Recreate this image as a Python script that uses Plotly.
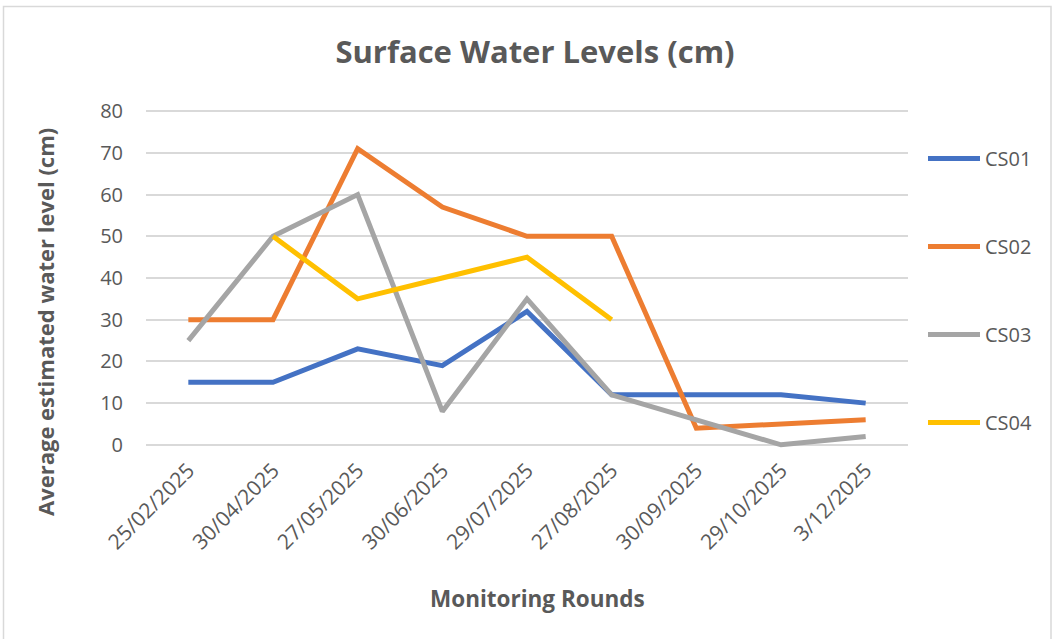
import plotly.graph_objects as go

rounds = ["25/02/2025", "30/04/2025", "27/05/2025", "30/06/2025", "29/07/2025",
          "27/08/2025", "30/09/2025", "29/10/2025", "3/12/2025"]
cs01 = [15, 15, 23, 19, 32, 12, 12, 12, 10]
cs02 = [30, 30, 71, 57, 50, 50, 4, 5, 6]
cs03 = [25, 50, 60, 8, 35, 12, 6, 0, 2]
cs04 = [None, 50, 35, 40, 45, 30, None, None, None]

series = [("CS01", cs01, "#4472C4"), ("CS02", cs02, "#ED7D31"),
          ("CS03", cs03, "#A5A5A5"), ("CS04", cs04, "#FFC000")]

W, H = 1053, 639
L, R = 146, 908
T, B = 107, 449  # plot area pixel bounds (y range -1..81)

fig = go.Figure()
for i, (name, vals, col) in enumerate(series):
    fig.add_trace(go.Scatter(x=rounds, y=vals, name=name, mode="lines",
                             line=dict(color=col, width=5),
                             legendgroup=name, connectgaps=False))

def px_x(p):
    return (p - L) / (R - L)

def px_y(p):
    return (B - p) / (B - T)

font_main = "Open Sans, sans-serif"
grey = "#595959"

fig.update_layout(
    width=W, height=H,
    margin=dict(l=L, r=W - R, t=T, b=H - B, autoexpand=False),
    plot_bgcolor="white", paper_bgcolor="white",
    font=dict(family=font_main, color=grey, size=18),
    title=dict(text="<b>Surface Water Levels (cm)</b>", x=535 / W, xanchor="center",
               y=1 - 52 / H, yanchor="middle", automargin=False,
               font=dict(family=font_main, size=31, color=grey)),
    xaxis=dict(type="category", range=[-0.5, 8.5], tickangle=-45, showgrid=False,
               showline=False, zeroline=False, ticks="", automargin=False,
               tickfont=dict(size=21, color=grey), ticklabelstandoff=4),
    yaxis=dict(range=[-1, 81], tickvals=[0, 10, 20, 30, 40, 50, 60, 70, 80],
               showgrid=True, gridcolor="#D9D9D9", gridwidth=1.5, zeroline=False,
               showline=False, ticks="", automargin=False,
               tickfont=dict(size=20, color=grey), ticklabelstandoff=22),
    legend=dict(x=px_x(923), xanchor="left", y=px_y(139), yanchor="top",
                tracegroupgap=59, font=dict(size=20, color=grey),
                itemwidth=52, bgcolor="rgba(0,0,0,0)"),
    showlegend=True,
)

fig.add_annotation(text="<b>Average estimated water level (cm)</b>", textangle=-90,
                   xref="paper", yref="paper", x=px_x(45), y=px_y(322),
                   xanchor="center", yanchor="middle", showarrow=False,
                   font=dict(family=font_main, size=22, color=grey))
fig.add_annotation(text="<b>Monitoring Rounds</b>",
                   xref="paper", yref="paper", x=px_x(537), y=px_y(598),
                   xanchor="center", yanchor="middle", showarrow=False,
                   font=dict(family=font_main, size=22.5, color=grey))

fig.add_shape(type="rect", xref="paper", yref="paper",
              x0=px_x(3.5), x1=px_x(1051), y0=px_y(6.5), y1=px_y(645),
              line=dict(color="#D9D9D9", width=1.5), fillcolor="rgba(0,0,0,0)",
              layer="below")

fig.write_html("out.html", config={"displayModeBar": False},
               post_script="document.body.style.margin='0';document.body.style.overflow='hidden';")
